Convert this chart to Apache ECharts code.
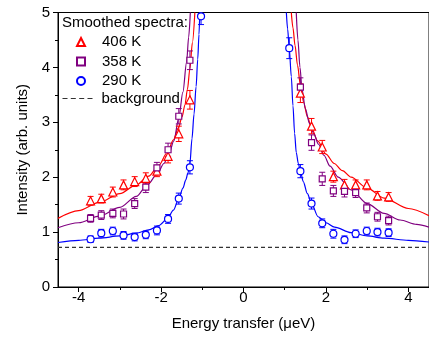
<!DOCTYPE html>
<html>
<head>
<meta charset="utf-8">
<script src="https://cdn.jsdelivr.net/npm/echarts@6/dist/echarts.min.js"></script>
<style>
html,body{margin:0;padding:0;background:#fff;}
#chart{width:429px;height:348px;}
</style>
</head>
<body>
<div id="chart"></div>
<script>
// ---- data ----
const xTickValues = [-4, -2, 0, 2, 4];
const xMinorValues = [-3, -1, 1, 3];

// 406 K (red triangles)
const x406 = [-3.71, -3.45, -3.17, -2.91, -2.64, -2.37, -2.10, -1.83, -1.57, -1.30, 1.38, 1.65, 1.91, 2.18, 2.45, 2.72, 2.99, 3.25, 3.52];
const y406 = [1.57, 1.61, 1.73, 1.86, 1.92, 1.98, 2.11, 2.38, 2.79, 3.41, 3.53, 2.93, 2.55, 2.01, 1.86, 1.86, 1.86, 1.66, 1.64];
const e406 = [0.08, 0.08, 0.09, 0.09, 0.09, 0.10, 0.10, 0.12, 0.14, 0.17, 0.17, 0.14, 0.12, 0.10, 0.10, 0.09, 0.09, 0.08, 0.08];

// 358 K (purple squares)
const x358 = [-3.71, -3.45, -3.17, -2.91, -2.64, -2.37, -2.10, -1.83, -1.57, -1.30, 1.38, 1.65, 1.91, 2.18, 2.45, 2.72, 2.99, 3.25, 3.52];
const y358 = [1.25, 1.31, 1.34, 1.33, 1.52, 1.82, 2.17, 2.50, 3.11, 4.13, 3.64, 2.63, 1.97, 1.75, 1.74, 1.72, 1.44, 1.28, 1.21];
const e358 = [0.07, 0.08, 0.08, 0.09, 0.09, 0.10, 0.10, 0.12, 0.14, 0.17, 0.17, 0.14, 0.12, 0.10, 0.10, 0.09, 0.09, 0.08, 0.08];

// 290 K (blue circles)
const x290 = [-3.71, -3.45, -3.17, -2.91, -2.64, -2.37, -2.10, -1.83, -1.57, -1.30, -1.03, 1.11, 1.38, 1.65, 1.91, 2.18, 2.45, 2.72, 2.99, 3.25, 3.52];
const y290 = [0.87, 0.98, 1.02, 0.94, 0.91, 0.95, 1.03, 1.24, 1.61, 2.18, 4.93, 4.35, 2.11, 1.52, 1.16, 0.97, 0.86, 0.97, 1.02, 1.00, 0.99];
const e290 = [0.06, 0.07, 0.07, 0.07, 0.07, 0.07, 0.08, 0.08, 0.10, 0.12, 0.15, 0.19, 0.12, 0.10, 0.08, 0.08, 0.07, 0.07, 0.07, 0.07, 0.07];

// fitted curves
const fit406Lx = [-4.5, -4.0, -3.5, -3.0, -2.6, -2.3, -2.05, -1.85, -1.7, -1.58, -1.49, -1.42, -1.36, -1.30, -1.24, -1.18];
const fit406Ly = [1.25, 1.39, 1.54, 1.70, 1.86, 2.02, 2.22, 2.45, 2.68, 2.90, 3.10, 3.32, 3.60, 3.98, 4.45, 5.0];
const fit406Rx = [1.16, 1.20, 1.25, 1.31, 1.38, 1.46, 1.55, 1.65, 1.80, 2.00, 2.20, 2.40, 2.61, 3.00, 3.41, 4.00, 4.50];
const fit406Ry = [5.00, 4.72, 4.40, 4.04, 3.68, 3.36, 3.10, 2.90, 2.66, 2.42, 2.25, 2.12, 2.00, 1.80, 1.62, 1.43, 1.30];

const fit358Lx = [-4.5, -4.0, -3.5, -3.0, -2.6, -2.33, -2.1, -1.93, -1.8, -1.69, -1.57, -1.47, -1.38, -1.33, -1.29];
const fit358Ly = [1.08, 1.17, 1.29, 1.45, 1.65, 1.86, 2.05, 2.25, 2.45, 2.66, 3.08, 3.55, 4.1, 4.55, 5.0];
const fit358Rx = [1.28, 1.32, 1.37, 1.42, 1.50, 1.60, 1.70, 1.82, 1.95, 2.10, 2.30, 2.61, 3.00, 3.41, 3.80, 4.20, 4.50];
const fit358Ry = [5.00, 4.50, 4.00, 3.60, 3.25, 2.98, 2.80, 2.60, 2.40, 2.20, 2.00, 1.77, 1.52, 1.34, 1.22, 1.14, 1.09];

const fit290Lx = [-4.5, -4.0, -3.5, -3.0, -2.6, -2.3, -2.05, -1.85, -1.7, -1.57, -1.47, -1.40, -1.35, -1.30, -1.25, -1.20, -1.15, -1.11, -1.08, -1.06];
const fit290Ly = [0.81, 0.85, 0.89, 0.93, 0.98, 1.04, 1.12, 1.24, 1.40, 1.61, 1.80, 1.95, 2.07, 2.25, 2.70, 3.15, 3.65, 4.15, 4.6, 5.0];
const fit290Rx = [1.04, 1.07, 1.11, 1.16, 1.20, 1.24, 1.28, 1.33, 1.38, 1.45, 1.55, 1.65, 1.81, 2.0, 2.21, 2.61, 3.0, 3.41, 4.0, 4.5];
const fit290Ry = [5.0, 4.7, 4.35, 3.83, 3.3, 2.8, 2.45, 2.25, 2.11, 1.92, 1.70, 1.52, 1.28, 1.17, 1.09, 0.99, 0.93, 0.89, 0.85, 0.82];

const backgroundX = [-4.5, 4.5];
const backgroundY = [0.72, 0.72];

// ---- build chart ----
const RED = '#ff0000', PURPLE = '#800080', BLUE = '#0000ff', DASH = '#333';
const FONT = 'Liberation Sans, Arial, sans-serif';
const zip = (a, b) => a.map((v, i) => [v, b[i]]);
const errData = (xs, ys, es) => xs.map((v, i) => [v, ys[i] - es[i], ys[i] + es[i]]);

function errSeries(name, xs, ys, es, color) {
  return {
    name: name, type: 'custom', z: 3, clip: true, silent: true,
    encode: { x: 0, y: [1, 2] },
    data: errData(xs, ys, es),
    renderItem: function (params, api) {
      const x = api.value(0), lo = api.value(1), hi = api.value(2);
      const p1 = api.coord([x, lo]), p2 = api.coord([x, hi]);
      const w = 3;
      const st = { stroke: color, lineWidth: 1 };
      return {
        type: 'group', children: [
          { type: 'line', shape: { x1: p1[0], y1: p1[1], x2: p2[0], y2: p2[1] }, style: st },
          { type: 'line', shape: { x1: p1[0] - w, y1: p1[1], x2: p1[0] + w, y2: p1[1] }, style: st },
          { type: 'line', shape: { x1: p2[0] - w, y1: p2[1], x2: p2[0] + w, y2: p2[1] }, style: st }
        ]
      };
    }
  };
}
function fitSeries(name, xs, ys, color) {
  return {
    name: name, type: 'line', data: zip(xs, ys), symbol: 'none', smooth: 0.3, smoothMonotone: 'x',
    lineStyle: { color: color, width: 1.2 }, itemStyle: { color: color }, z: 2, silent: true, clip: true
  };
}
function ptSeries(name, xs, ys, symbol, color, size) {
  return {
    name: name, type: 'scatter', data: zip(xs, ys), symbol: symbol, symbolSize: size,
    itemStyle: { color: '#fff', borderColor: color, borderWidth: 1.2, opacity: 1 }, z: 4, clip: true
  };
}

const chart = echarts.init(document.getElementById('chart'), null, { renderer: 'canvas' });
const axisLineStyle = { color: '#000', width: 1 };
chart.setOption({
  animation: false,
  backgroundColor: '#fff',
  textStyle: { fontFamily: FONT },
  grid: { left: 58, top: 12.5, right: -2.75, bottom: 61, show: true, borderColor: '#000', borderWidth: 1, backgroundColor: 'transparent' },
  title: {
    text: 'Smoothed spectra:', left: 62, top: 15, padding: 0,
    textStyle: { fontFamily: FONT, fontSize: 15, fontWeight: 'normal', color: '#000' }
  },
  legend: [
    {
      data: [
        { name: '406 K', icon: 'triangle' },
        { name: '358 K', icon: 'rect' },
        { name: '290 K', icon: 'circle' }
      ],
      orient: 'vertical', left: 76, top: 34.5, padding: 0,
      itemWidth: 8, itemHeight: 8, itemGap: 4.5, selectedMode: false,
      textStyle: { fontFamily: FONT, fontSize: 15, color: '#000', padding: [0, 0, 0, 12] }
    },
    {
      data: [{ name: 'background', icon: 'path://M0 0H5V1H0Z M8.3 0H13.3V1H8.3Z M16.7 0H21.7V1H16.7Z M25 0H30V1H25Z' }],
      orient: 'vertical', left: 62.5, top: 91, padding: 0,
      itemWidth: 30, itemHeight: 1.2, selectedMode: false,
      itemStyle: { color: DASH, borderWidth: 0 },
      textStyle: { fontFamily: FONT, fontSize: 15, color: '#000', padding: [0, 0, 0, 4] }
    }
  ],
  xAxis: [
    {
      type: 'value', min: -4.5, max: 4.5, position: 'bottom',
      name: 'Energy transfer (\u03BCeV)', nameLocation: 'middle', nameGap: 29,
      nameTextStyle: { fontFamily: FONT, fontSize: 15, color: '#000' },
      axisLine: { show: true, onZero: false, lineStyle: axisLineStyle },
      axisTick: { show: true, inside: false, length: 5, customValues: xTickValues, lineStyle: axisLineStyle },
      axisLabel: { show: true, customValues: xTickValues, margin: 3, fontFamily: FONT, fontSize: 15, color: '#000' },
      splitLine: { show: false }
    },
    {
      type: 'value', min: -4.5, max: 4.5, position: 'bottom', gridIndex: 0,
      axisLine: { show: false, onZero: false },
      axisTick: { show: true, inside: false, length: 3, customValues: xMinorValues, lineStyle: axisLineStyle },
      axisLabel: { show: false },
      splitLine: { show: false }
    }
  ],
  yAxis: {
    type: 'value', min: 0, max: 5, interval: 1, position: 'left',
    name: 'Intensity (arb. units)', nameLocation: 'middle', nameGap: 28,
    nameTextStyle: { fontFamily: FONT, fontSize: 15, color: '#000' },
    axisLine: { show: true, onZero: false, lineStyle: axisLineStyle },
    axisTick: { show: true, inside: false, length: 5, lineStyle: axisLineStyle },
    minorTick: { show: true, splitNumber: 2, length: 3, lineStyle: axisLineStyle },
    axisLabel: { margin: 8, fontFamily: FONT, fontSize: 15, color: '#000' },
    splitLine: { show: false }
  },
  series: [
    {
      name: 'background', type: 'line', data: zip(backgroundX, backgroundY), symbol: 'none',
      lineStyle: { color: DASH, width: 1.2, type: [4, 3] }, itemStyle: { color: DASH }, z: 1, silent: true
    },
    fitSeries('fit406L', fit406Lx, fit406Ly, RED),
    fitSeries('fit406R', fit406Rx, fit406Ry, RED),
    fitSeries('fit358L', fit358Lx, fit358Ly, PURPLE),
    fitSeries('fit358R', fit358Rx, fit358Ry, PURPLE),
    fitSeries('fit290L', fit290Lx, fit290Ly, BLUE),
    fitSeries('fit290R', fit290Rx, fit290Ry, BLUE),
    errSeries('err406', x406, y406, e406, RED),
    errSeries('err358', x358, y358, e358, PURPLE),
    errSeries('err290', x290, y290, e290, BLUE),
    ptSeries('406 K', x406, y406, 'triangle', RED, 8),
    ptSeries('358 K', x358, y358, 'rect', PURPLE, 6),
    ptSeries('290 K', x290, y290, 'circle', BLUE, 7)
  ]
});
</script>
</body>
</html>
